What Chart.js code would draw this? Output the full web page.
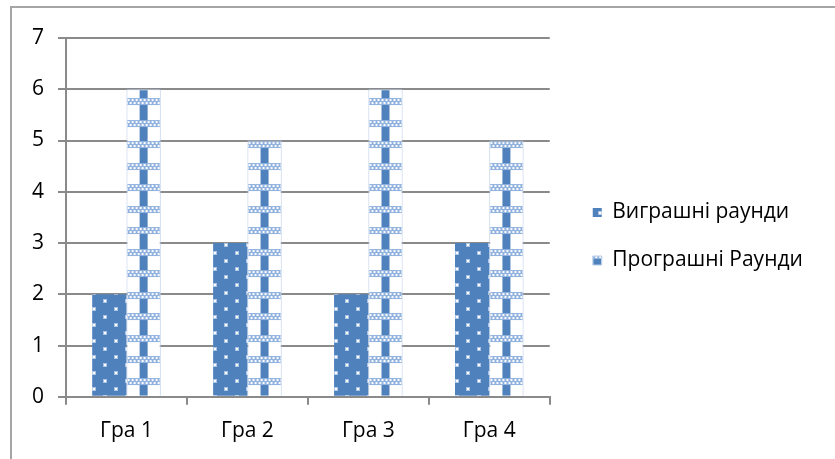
<!DOCTYPE html>
<html>
<head>
<meta charset="utf-8">
<script src="https://cdn.jsdelivr.net/npm/chart.js@4/dist/chart.umd.min.js"></script>
<style>
  html, body { margin: 0; padding: 0; background: #ffffff; }
  #wrap { position: relative; width: 835px; height: 459px; overflow: hidden; }
  #frame { position: absolute; left: 10px; top: 6px; width: 900px; height: 600px;
           border: 2px solid #a5a5a5; box-sizing: border-box; }
  canvas { position: absolute; left: 0; top: 0; }
</style>
</head>
<body>
<div id="wrap">
  <div id="frame"></div>
  <canvas id="chart" width="835" height="459"></canvas>
</div>
<script>
// Games and rounds per game
const categories = ['Гра 1', 'Гра 2', 'Гра 3', 'Гра 4'];
const seriesNames = ['Виграшні раунди', 'Програшні Раунди'];
const wonRounds = [2, 3, 2, 3];
const lostRounds = [6, 5, 6, 5];
const yTickValues = [0, 1, 2, 3, 4, 5, 6, 7];

const BLUE = '#4f81bd';
const FONT = 'Open Sans';
const FONT_SIZE = 21;

const canvas = document.getElementById('chart');
const ctx = canvas.getContext('2d');

// Blue fill with a staggered grid of small white dots
function makeDotPattern() {
  const t = document.createElement('canvas');
  t.width = 22; t.height = 16;
  const g = t.getContext('2d');
  g.fillStyle = BLUE;
  g.fillRect(0, 0, t.width, t.height);
  g.fillStyle = '#a9c3e4';
  g.fillRect(4, 3, 4, 4); g.fillRect(15, 11, 4, 4);
  g.fillStyle = '#ffffff';
  g.fillRect(5, 4, 2, 2); g.fillRect(16, 12, 2, 2);
  return ctx.createPattern(t, 'repeat');
}

// White fill with a central blue stripe crossed by checkered bands
function makeWeavePattern() {
  const t = document.createElement('canvas');
  t.width = 24; t.height = 43;
  const g = t.getContext('2d');
  g.fillStyle = '#ffffff';
  g.fillRect(0, 0, t.width, t.height);
  g.fillStyle = BLUE;
  g.fillRect(8, 0, 8, t.height);
  [12, 34].forEach(y0 => {
    g.fillStyle = '#8fb1de';
    g.fillRect(0, y0, t.width, 7);
    g.fillStyle = '#ffffff';
    for (let x = 0; x < t.width; x += 4) {
      g.fillRect(x, y0 + 1, 2, 2);
      g.fillRect(x + 2, y0 + 4, 2, 2);
    }
  });
  return ctx.createPattern(t, 'repeat');
}

const wonFill = makeDotPattern();
const lostFills = categories.map(() => makeWeavePattern());
const legendLostFill = makeWeavePattern();

// Keep each weave centred on its own bar
const alignPatterns = {
  id: 'alignPatterns',
  beforeDatasetsDraw(chart) {
    const meta = chart.getDatasetMeta(1);
    meta.data.forEach((bar, i) => {
      lostFills[i].setTransform(new DOMMatrix([1, 0, 0, 1, bar.x - 12, 0]));
    });
  }
};

// Place the legend block to the right of the plot, centred in the frame
const placeLegend = {
  id: 'placeLegend',
  afterLayout(chart) {
    const lg = chart.legend;
    lg.left = chart.chartArea.right + 16;
    lg.right = chart.width;
    lg.top = 14;
    lg.bottom = chart.height;
  },
  beforeDraw(chart) {
    const lg = chart.legend;
    if (lg && lg.legendHitBoxes && lg.legendHitBoxes[1]) {
      const b = lg.legendHitBoxes[1];
      legendLostFill.setTransform(new DOMMatrix([1, 0, 0, 1, b.left + 4.5 - 12, b.top - 10]));
    }
  }
};

new Chart(ctx, {
  type: 'bar',
  data: {
    labels: categories,
    datasets: [
      {
        label: seriesNames[0],
        data: wonRounds,
        backgroundColor: wonFill,
        borderWidth: 0
      },
      {
        label: seriesNames[1],
        data: lostRounds,
        backgroundColor: (c) => (c.dataIndex !== undefined && lostFills[c.dataIndex]) || lostFills[0],
        borderColor: '#b8cce8',
        borderWidth: 1,
        borderSkipped: 'bottom'
      }
    ]
  },
  options: {
    responsive: false,
    animation: false,
    layout: { padding: { left: 18, top: 38, right: 108, bottom: 1 } },
    datasets: {
      bar: { categoryPercentage: 0.567, barPercentage: 1.0 }
    },
    plugins: {
      tooltip: { enabled: false },
      legend: {
        position: 'right',
        labels: {
          font: { family: FONT, size: FONT_SIZE },
          color: '#000000',
          boxWidth: 9,
          boxHeight: 9,
          padding: 27,
          generateLabels(chart) {
            return chart.data.datasets.map((ds, i) => ({
              text: ds.label,
              fillStyle: i === 0 ? wonFill : legendLostFill,
              strokeStyle: i === 0 ? BLUE : '#b8cce8',
              lineWidth: i === 0 ? 0 : 1,
              datasetIndex: i,
              hidden: false
            }));
          }
        }
      }
    },
    scales: {
      x: {
        offset: true,
        grid: {
          display: true,
          offset: true,
          drawOnChartArea: false,
          drawTicks: true,
          tickLength: 8,
          color: '#8a8a8a',
          lineWidth: 2
        },
        border: { display: true, color: '#8a8a8a', width: 2 },
        ticks: {
          font: { family: FONT, size: FONT_SIZE },
          color: '#000000',
          padding: 14
        }
      },
      y: {
        min: 0,
        max: 7,
        afterBuildTicks(scale) {
          scale.ticks = yTickValues.map(v => ({ value: v }));
        },
        grid: {
          color: '#8a8a8a',
          lineWidth: 2,
          drawTicks: true,
          tickLength: 8
        },
        border: { display: true, color: '#8a8a8a', width: 2 },
        ticks: {
          font: { family: FONT, size: FONT_SIZE },
          color: '#000000',
          padding: 14
        }
      }
    }
  },
  plugins: [alignPatterns, placeLegend]
});
</script>
</body>
</html>
